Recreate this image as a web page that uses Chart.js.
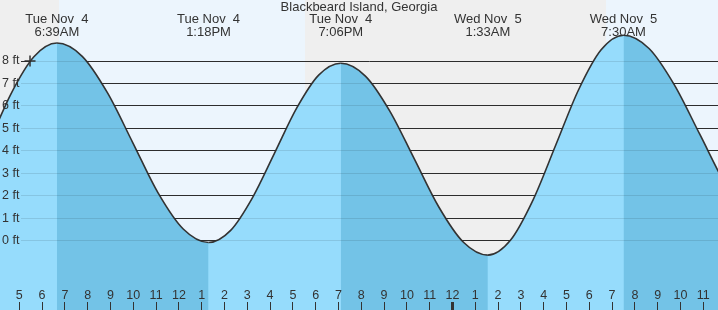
<!DOCTYPE html>
<html>
<head>
<meta charset="utf-8">
<script src="https://cdn.jsdelivr.net/npm/chart.js@4/dist/chart.umd.min.js"></script>
<style>
html,body{margin:0;padding:0;background:#efefef;overflow:hidden}
#wrap{width:718px;height:310px;position:relative}
canvas{display:block}
</style>
</head>
<body>
<div id="wrap"><canvas id="c" width="718" height="310"></canvas></div>
<script>
// ---- data (hours since Tue Nov 4 00:00, heights in ft) ----
const stationName = 'Blackbeard Island, Georgia';
const tideTimes   = [2.62, 3.63, 4.63, 5.64, 6.65, 7.76, 8.87, 9.98, 11.08, 12.19, 13.30, 14.27, 15.23, 16.20, 17.17, 18.13, 19.10, 20.18, 21.25, 22.33, 23.40, 24.48, 25.55, 26.54, 27.53, 28.53, 29.52, 30.51, 31.50, 32.62, 33.73, 34.85, 35.97, 37.08];
const tideHeights = [1.98, 4.25, 6.53, 8.19, 8.80, 8.21, 6.58, 4.36, 2.14, 0.52, -0.08, 0.46, 1.92, 3.91, 5.91, 7.37, 7.90, 7.33, 5.77, 3.63, 1.50, -0.07, -0.64, 0.02, 1.81, 4.26, 6.70, 8.49, 9.15, 8.56, 6.94, 4.73, 2.51, 0.89];
const extremeTimes  = [6.65, 13.30, 19.10, 25.55, 31.50];
const extremeLabels = [['Tue Nov  4', '6:39AM'], ['Tue Nov  4', '1:18PM'], ['Tue Nov  4', '7:06PM'], ['Wed Nov  5', '1:33AM'], ['Wed Nov  5', '7:30AM']];
const hourTicks  = [5, 6, 7, 8, 9, 10, 11, 12, 13, 14, 15, 16, 17, 18, 19, 20, 21, 22, 23, 24, 25, 26, 27, 28, 29, 30, 31, 32, 33, 34, 35];
const hourLabels = ['5', '6', '7', '8', '9', '10', '11', '12', '1', '2', '3', '4', '5', '6', '7', '8', '9', '10', '11', '12', '1', '2', '3', '4', '5', '6', '7', '8', '9', '10', '11'];
const heightTicks  = [0, 1, 2, 3, 4, 5, 6, 7, 8];
const heightLabels = ['0 ft', '1 ft', '2 ft', '3 ft', '4 ft', '5 ft', '6 ft', '7 ft', '8 ft'];
const sunrise = [6.74, 30.73];
const sunset  = [17.53, 41.50];
const nowTime   = [5.47];
const nowHeight = [8.0];
const midnightHour = 24;

// ---- layout / style ----
const X_MIN = 4.1535, X_MAX = 35.6447;
const Y_MIN = -3.085, Y_MAX = 10.717;
const TOP_AXIS_AT = 10.138;
const BOTTOM_AXIS_AT = -2.7293;
const GRID_DASH = [0, 21, 2000, 0];
const NIGHT = '#efefef', DAY = '#ecf5fd';
const LIGHT = '#96dcfc', DARK = '#73c3e7';
const CLEAR = 'rgba(0,0,0,0)';
const INK = '#333';
const FAMILY = "'Liberation Sans', Arial, sans-serif";

const zeroPad = s => { s.paddingTop = 0; s.paddingBottom = 0; s.paddingLeft = 0; s.paddingRight = 0; };
const tidePoints = () => tideTimes.map((t, i) => ({x: t, y: tideHeights[i]}));

const bgPlugin = {
  id: 'dayNight',
  beforeDraw(chart) {
    const {ctx, width, height} = chart;
    const xs = chart.scales.x;
    ctx.save();
    ctx.fillStyle = NIGHT;
    ctx.fillRect(0, 0, width, height);
    ctx.fillStyle = DAY;
    sunrise.forEach((t, i) => {
      const a = Math.round(xs.getPixelForValue(t));
      const b = Math.round(xs.getPixelForValue(sunset[i]));
      ctx.fillRect(a, 0, b - a, height);
    });
    ctx.restore();
  },
  afterDraw(chart) {
    const {ctx, width} = chart;
    ctx.save();
    ctx.font = '13px ' + FAMILY;
    ctx.fillStyle = INK;
    ctx.textAlign = 'center';
    ctx.textBaseline = 'middle';
    ctx.fillText(stationName, width / 2, 7.5);
    ctx.restore();
  }
};

new Chart(document.getElementById('c'), {
  type: 'line',
  data: {
    datasets: [
      {
        label: 'now',
        data: nowTime.map((t, i) => ({x: t, y: nowHeight[i]})),
        showLine: false,
        fill: false,
        pointStyle: 'cross',
        pointRadius: 5.5,
        pointHoverRadius: 5.5,
        pointBorderWidth: 1.5,
        pointBorderColor: INK,
        borderColor: INK,
        clip: false,
        order: 0
      },
      {
        label: 'tide',
        data: tidePoints(),
        borderColor: INK,
        borderWidth: 1.6,
        pointRadius: 0,
        pointHoverRadius: 0,
        cubicInterpolationMode: 'monotone',
        fill: 'start',
        backgroundColor: CLEAR,
        segment: {
          backgroundColor: c => (c.p1.parsed.y < c.p0.parsed.y ? DARK : CLEAR)
        },
        clip: false,
        order: 1
      },
      {
        label: 'tide base',
        data: tidePoints(),
        borderWidth: 0,
        borderColor: CLEAR,
        pointRadius: 0,
        pointHoverRadius: 0,
        cubicInterpolationMode: 'monotone',
        fill: 'start',
        backgroundColor: LIGHT,
        clip: false,
        order: 2
      }
    ]
  },
  options: {
    responsive: false,
    animation: false,
    events: [],
    layout: {padding: 0, autoPadding: false},
    plugins: {legend: {display: false}, tooltip: {enabled: false}, title: {display: false}},
    scales: {
      x: {
        type: 'linear', axis: 'x', min: X_MIN, max: X_MAX,
        position: {y: BOTTOM_AXIS_AT},
        afterBuildTicks: s => { s.ticks = hourTicks.map(v => ({value: v})); },
        afterFit: zeroPad,
        border: {display: false},
        grid: {
          display: true, drawOnChartArea: false, drawTicks: true, tickLength: 8, z: 1,
          color: INK, tickColor: INK,
          lineWidth: c => (c.tick && c.tick.value === midnightHour ? 3 : 1),
          tickWidth: c => (c.tick && c.tick.value === midnightHour ? 3 : 1)
        },
        ticks: {
          z: 1, autoSkip: false, maxRotation: 0, minRotation: 0, padding: -20.3,
          color: INK, font: {family: FAMILY, size: 12.5, lineHeight: 1},
          callback: (v, i) => hourLabels[i]
        }
      },
      xTop: {
        type: 'linear', axis: 'x', min: X_MIN, max: X_MAX,
        position: {y: TOP_AXIS_AT},
        afterBuildTicks: s => { s.ticks = extremeTimes.map(v => ({value: v})); },
        afterFit: zeroPad,
        border: {display: false},
        grid: {display: false, drawOnChartArea: false, drawTicks: false},
        ticks: {
          z: 1, autoSkip: false, maxRotation: 0, minRotation: 0, padding: 0,
          color: INK, font: {family: FAMILY, size: 13, lineHeight: 1},
          callback: (v, i) => extremeLabels[i]
        }
      },
      y: {
        type: 'linear', axis: 'y', position: 'left', min: Y_MIN, max: Y_MAX,
        afterBuildTicks: s => { s.ticks = heightTicks.map(v => ({value: v})); },
        afterFit: s => { s.width = 0; zeroPad(s); },
        border: {display: false, dash: GRID_DASH},
        grid: {color: INK, lineWidth: 1, drawTicks: false, z: -1},
        ticks: {
          z: 1, mirror: true, padding: 2, color: INK, font: {family: FAMILY, size: 12.5},
          callback: (v, i) => heightLabels[i]
        }
      },
      y2: {
        type: 'linear', axis: 'y', position: 'left', min: Y_MIN, max: Y_MAX,
        afterBuildTicks: s => { s.ticks = heightTicks.map(v => ({value: v})); },
        afterFit: s => { s.width = 0; zeroPad(s); },
        border: {display: false, dash: GRID_DASH},
        grid: {color: 'rgba(0,0,0,0.1)', lineWidth: 1, drawTicks: false, z: 1},
        ticks: {display: false}
      }
    }
  },
  plugins: [bgPlugin]
});
</script>
</body>
</html>
